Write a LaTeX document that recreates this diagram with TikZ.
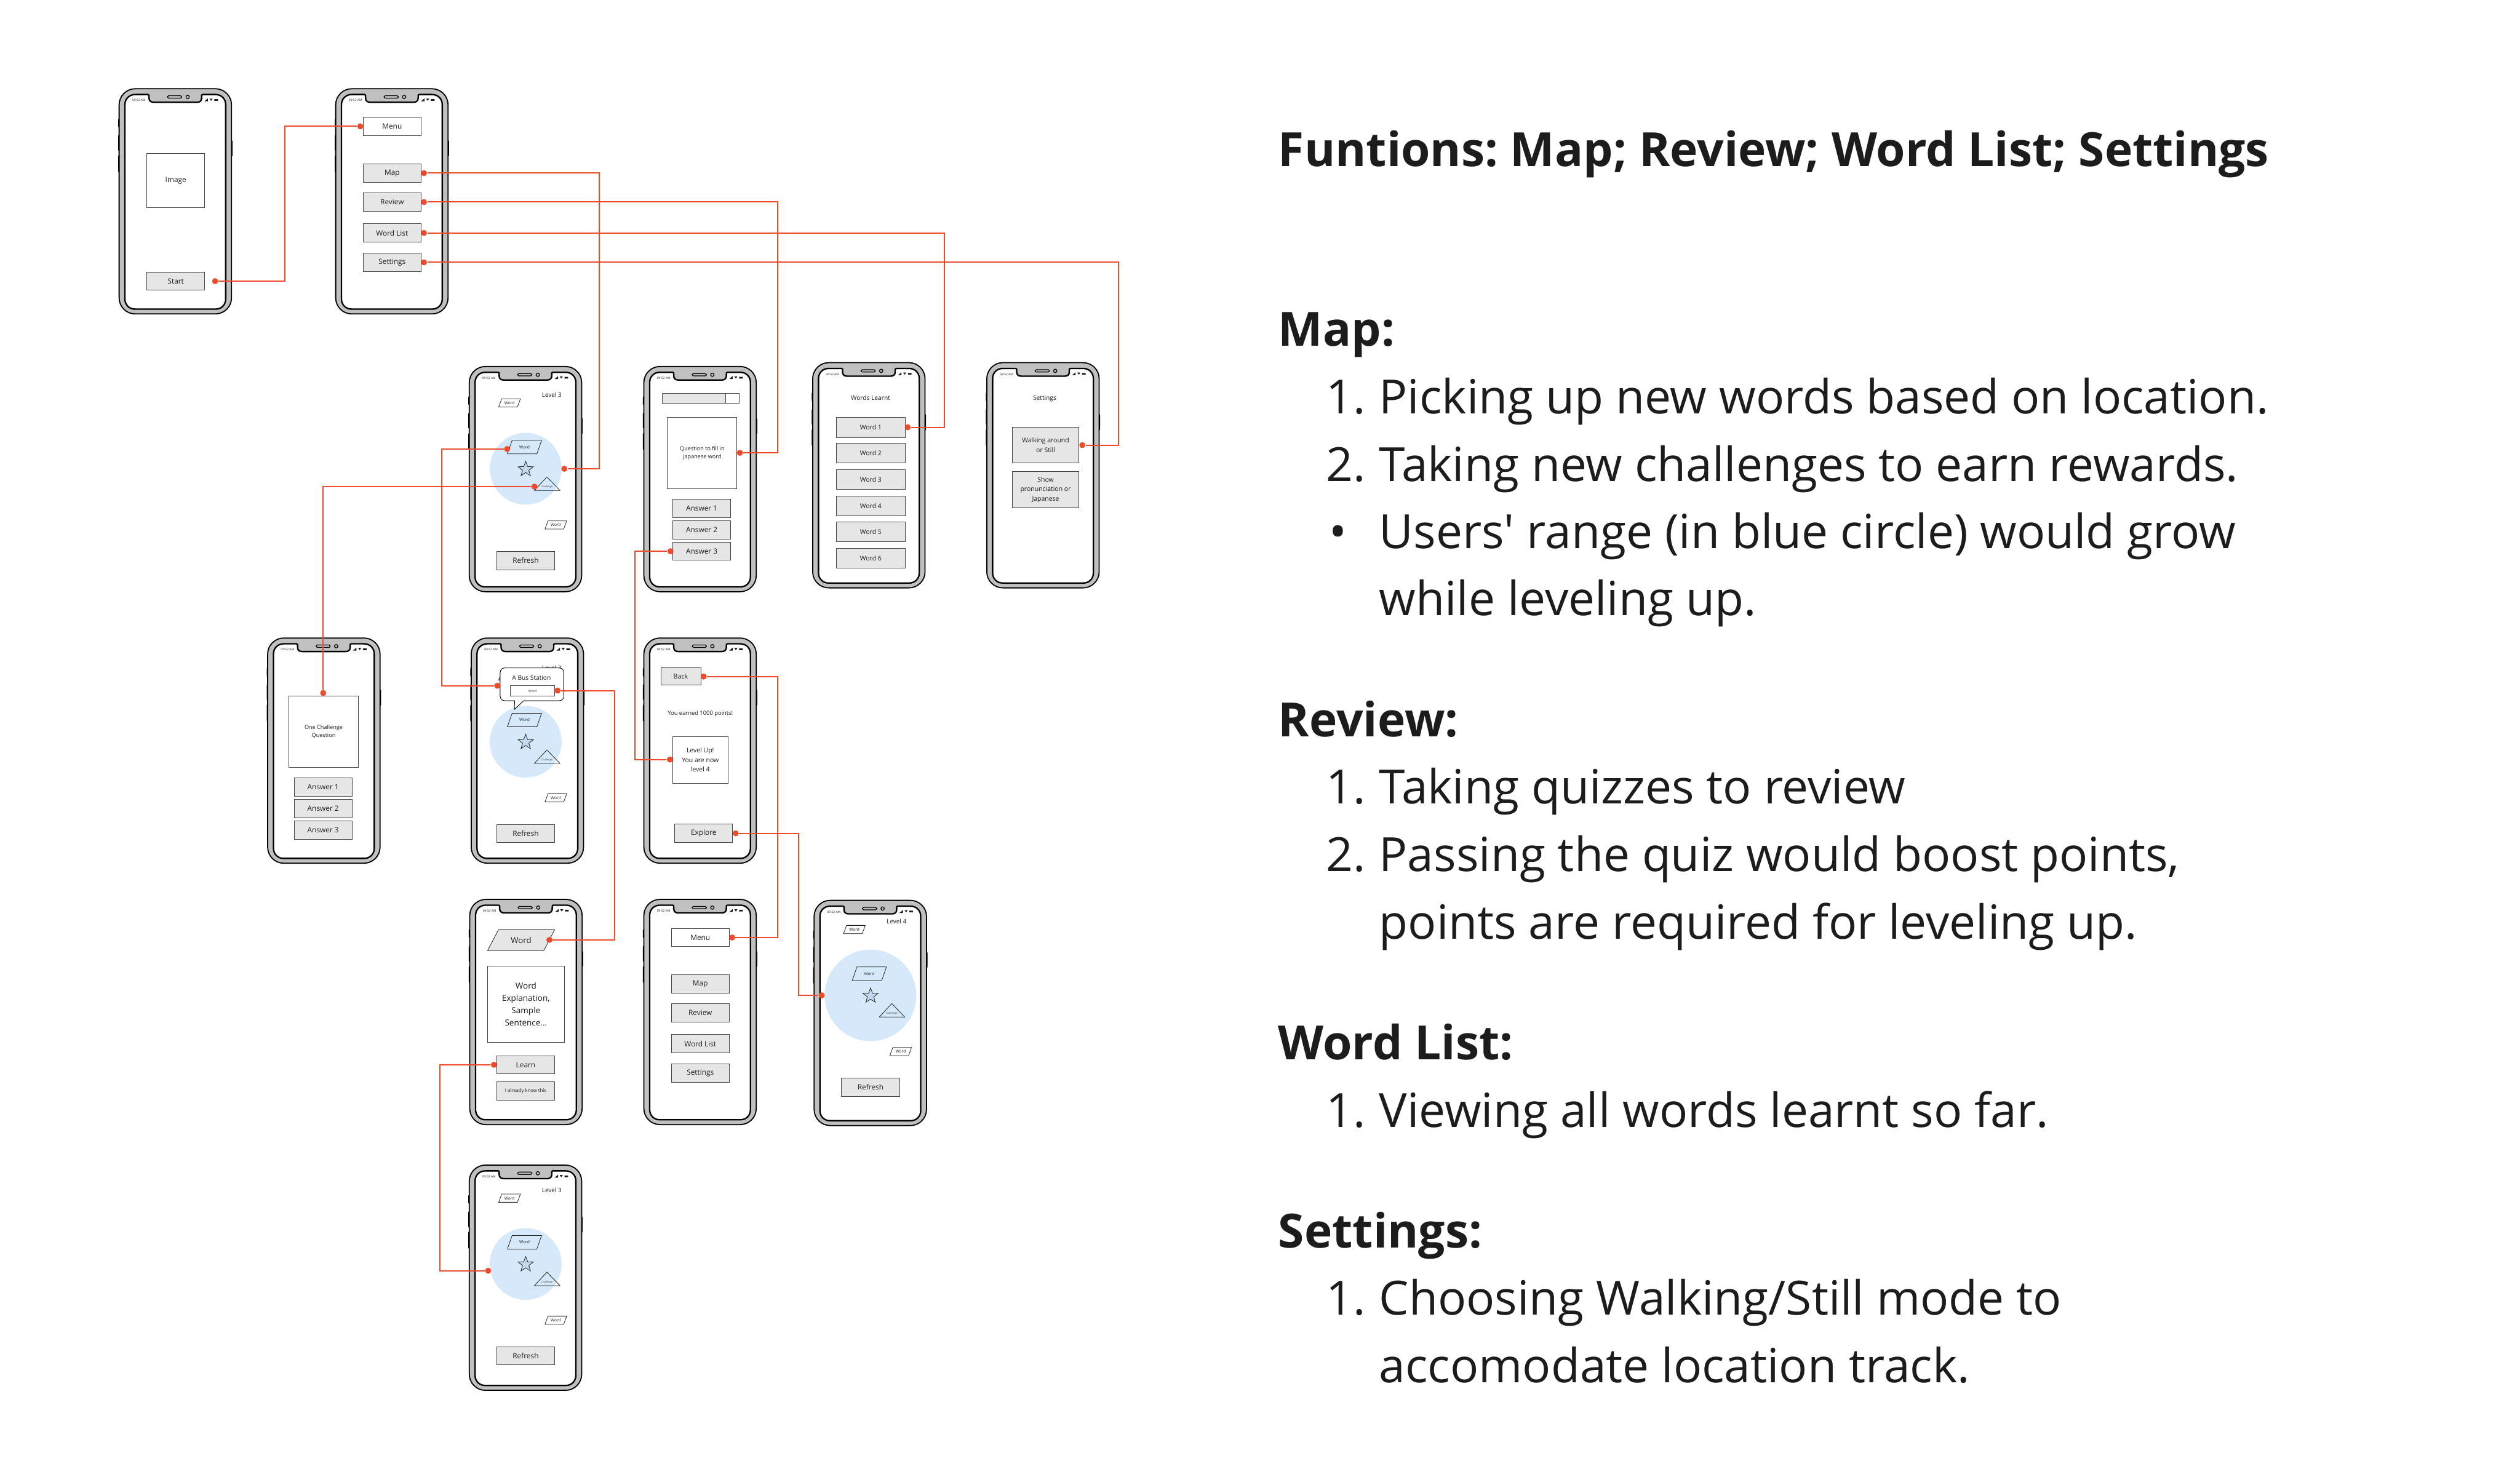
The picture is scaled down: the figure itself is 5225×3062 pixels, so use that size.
\documentclass[tikz,border=0pt]{standalone}
\usepackage{fontspec}
\setmainfont{Open Sans}
\usetikzlibrary{shapes.geometric}

\definecolor{bezelgray}{HTML}{C0C0C0}
\definecolor{btngray}{HTML}{E6E6E6}
\definecolor{edgegray}{HTML}{444444}
\definecolor{inkdark}{HTML}{1C1C1C}
\definecolor{linkred}{HTML}{EE4B2B}
\definecolor{rangeblue}{HTML}{D5E9FB}
\definecolor{starblue}{HTML}{C3DAEE}

\newcommand{\uifont}{\fontsize{4.3}{5.7}\selectfont}
\newcommand{\smallui}{\fontsize{3.7}{5.6}\selectfont}
\newcommand{\tinyui}{\fontsize{2.4}{3}\selectfont}
\newcommand{\bodyfont}{\fontsize{27.8}{40}\selectfont}
\frenchspacing

\begin{document}
\begin{tikzpicture}[
    x=0.01cm, y=-0.01cm,
    btn/.style={rectangle, draw=edgegray, fill=btngray, line width=.33pt, inner sep=0, minimum width=1.2cm, minimum height=.38cm, font=\uifont, text=inkdark, align=center},
    card/.style={btn, fill=white},
    caption/.style={inner sep=0, font=\smallui, text=inkdark, align=center},
    slant/.style={trapezium, trapezium left angle=58, trapezium right angle=122, trapezium stretches=true, draw=inkdark, line width=.28pt, inner sep=0, font=\tinyui, text=inkdark},
    dot/.style={circle, fill=linkred, inner sep=0, minimum size=.125cm},
    link/.style={draw=linkred, line width=.72pt},
    head/.style={anchor=base west, inner sep=0, font=\bodyfont\bfseries, text=inkdark},
    body/.style={anchor=base west, inner sep=0, font=\bodyfont, text=inkdark},
    pics/phone/.style={code={
        \fill[black, rounded corners=.4pt] (-2,62) rectangle (2,80) (-2,96) rectangle (2,129) (-2,138) rectangle (2,173) (231,107) rectangle (235,140);
        \draw[black, line width=.65pt, fill=bezelgray, rounded corners=9.5pt] (0,0) rectangle (233,467);
        \draw[black, line width=.85pt, fill=white] (33,12) -- (60,12) .. controls (62,12) and (62,14) .. (62,17) -- (62,20) .. controls (62,25) and (66,28) .. (71,28) -- (162,28) .. controls (167,28) and (171,25) .. (171,20) -- (171,17) .. controls (171,14) and (171,12) .. (173,12) -- (200,12) .. controls (212,12) and (221,21) .. (221,33) -- (221,436) .. controls (221,448) and (212,457) .. (200,457) -- (33,457) .. controls (21,457) and (12,448) .. (12,436) -- (12,33) .. controls (12,21) and (21,12) .. (33,12) -- cycle;
        \draw[black, line width=.45pt, fill=bezelgray, rounded corners=.7pt] (100,14.5) rectangle (130,19.5);
        \draw[black, line width=.45pt, fill=bezelgray] (142,17) circle [radius=3.5];
        \node[inner sep=0, font=\fontsize{1.8}{2}\selectfont, text=inkdark] (clock) at (41,24) {09:52 AM};
        \fill[inkdark] (177,26) -- (184,26) -- (184,20) -- cycle (187.5,20.5) -- (194,20.5) -- (190.7,25) -- cycle (197.5,21.5) rectangle (205,25);
    }},
    pics/mapitems/.style n args={2}{code={
        \fill[rangeblue] (117,212) circle [radius=#1];
        \node[caption, font=\fontsize{3.6}{4}\selectfont] (level) at (171,59) {Level #2};
        \node[slant, minimum width=.45cm, minimum height=.17cm] (wordtop) at (83.5,75.5) {Word};
        \node[slant, minimum width=.71cm, minimum height=.28cm] (wordmid) at (114.5,167) {Word};
        \node[slant, minimum width=.45cm, minimum height=.17cm] (wordlow) at (179.5,328.5) {Word};
        \node[star, star points=5, star point ratio=2.4, draw=inkdark, fill=starblue, line width=.28pt, inner sep=0, minimum size=.33cm] (me) at (117,213) {};
        \draw[inkdark, line width=.28pt] (161,229) -- (135,257) -- (188,257) -- cycle;
        \node[inner sep=0, font=\fontsize{1.5}{2}\selectfont, text=edgegray] (chal) at (161,250) {Challenge};
        \node[btn] (refresh) at (117,402.5) {Refresh};
    }},
    pics/menuitems/.style={code={
        \node[card] (menu) at (117,78.5) {Menu};
        \node[btn] (map) at (117,175) {Map};
        \node[btn] (review) at (117,235) {Review};
        \node[btn] (words) at (117,299) {Word List};
        \node[btn] (settings) at (117,360) {Settings};
    }}
]

\fill[white] (0,0) rectangle (5225,3062);
\useasboundingbox (0,0) rectangle (5225,3062);

% Phones
\pic (start) at (247,184) {phone};
\pic (main) at (696,184) {phone};
\pic (explore) at (973,760) {phone};
\pic (quiz) at (1335,760) {phone};
\pic (learnt) at (1685,752) {phone};
\pic (setup) at (2046,752) {phone};
\pic (challenge) at (555,1323) {phone};
\pic (bus) at (977,1323) {phone};
\pic (levelup) at (1335,1323) {phone};
\pic (detail) at (974,1865) {phone};
\pic (again) at (1335,1865) {phone};
\pic (four) at (1688,1867) {phone};
\pic (last) at (973,2416) {phone};

% Start and menu
\node[card, minimum height=1.12cm] (image) at (364.5,374) {Image};
\node[btn] (startbtn) at (364.5,583) {Start};
\pic (firstmenu) at (696,184) {menuitems};

% Map screens
\pic (mapthree) at (973,760) {mapitems={74.5}{3}};
\pic (mapbus) at (973,1326) {mapitems={74.5}{3}};
\pic (mapfour) at (1688,1852) {mapitems={95}{4}};
\pic (maplast) at (973,2409) {mapitems={74.5}{3}};

% Bubble on the bus stop
\draw[black, line width=.33pt, fill=white] (1086,1453) -- (1159,1453) .. controls (1165,1453) and (1169,1449) .. (1169,1443) -- (1169,1395) .. controls (1169,1389) and (1165,1385) .. (1159,1385) -- (1047,1385) .. controls (1041,1385) and (1037,1389) .. (1037,1395) -- (1037,1443) .. controls (1037,1449) and (1041,1453) .. (1047,1453) -- (1067,1453) -- (1066.5,1471) -- cycle;
\node[caption] (busname) at (1102,1406) {A Bus Station};
\node[card, minimum width=.92cm, minimum height=.21cm, font=\fontsize{2}{3}\selectfont, text=edgegray] (busword) at (1104,1432.5) {Word};

% Quiz
\node[rectangle, draw=edgegray, fill=btngray, line width=.33pt, minimum width=1.59cm, minimum height=.2cm, inner sep=0] (barfull) at (1452.5,826) {};
\node[rectangle, draw=edgegray, fill=white, line width=.33pt, minimum width=.28cm, minimum height=.2cm, inner sep=0] (barrest) at (1518,826) {};
\node[card, minimum width=1.44cm, minimum height=1.47cm, font=\fontsize{3.3}{4.9}\selectfont] (question) at (1456,939.5) {Question to fill in\\Japanese word};
\node[btn] (quizone) at (1455,1054) {Answer 1};
\node[btn] (quiztwo) at (1455,1099) {Answer 2};
\node[btn] (quizthree) at (1455,1143) {Answer 3};

% Word list
\node[caption] (wordstitle) at (1805,825) {Words Learnt};
\node[btn, minimum width=1.43cm, minimum height=.41cm, font=\fontsize{3.8}{5}\selectfont] (wordone) at (1805.5,886.5) {Word 1};
\node[btn, minimum width=1.43cm, minimum height=.41cm, font=\fontsize{3.8}{5}\selectfont] (wordtwo) at (1805.5,939.5) {Word 2};
\node[btn, minimum width=1.43cm, minimum height=.41cm, font=\fontsize{3.8}{5}\selectfont] (wordthree) at (1805.5,994.5) {Word 3};
\node[btn, minimum width=1.43cm, minimum height=.41cm, font=\fontsize{3.8}{5}\selectfont] (wordfour) at (1805.5,1049) {Word 4};
\node[btn, minimum width=1.43cm, minimum height=.41cm, font=\fontsize{3.8}{5}\selectfont] (wordfive) at (1805.5,1102.5) {Word 5};
\node[btn, minimum width=1.43cm, minimum height=.41cm, font=\fontsize{3.8}{5}\selectfont] (wordsix) at (1805.5,1157.5) {Word 6};

% Settings
\node[caption] (setuptitle) at (2166,826) {Settings};
\node[btn, minimum width=1.38cm, minimum height=.74cm, font=\fontsize{3.8}{5.7}\selectfont] (walking) at (2168,923) {Walking around\\or Still};
\node[btn, minimum width=1.38cm, minimum height=.75cm, font=\fontsize{3.8}{5.7}\selectfont] (pronounce) at (2168,1015.5) {Show\\pronunciation or\\Japanese};

% Challenge
\node[card, minimum width=1.44cm, minimum height=1.48cm, font=\fontsize{3.3}{4.9}\selectfont] (chalbox) at (671,1517) {One Challenge\\Question};
\node[btn] (chalone) at (670,1632.5) {Answer 1};
\node[btn] (chaltwo) at (670,1677) {Answer 2};
\node[btn] (chalthree) at (670,1721) {Answer 3};

% Level up
\node[btn, minimum width=.83cm, minimum height=.35cm, font=\fontsize{3.9}{5}\selectfont] (back) at (1411.5,1402.5) {Back};
\node[caption, font=\fontsize{3.4}{5}\selectfont] (earned) at (1452,1480) {You earned 1000 points!};
\node[card, minimum width=1.14cm, minimum height=.97cm, font=\fontsize{3.8}{5.6}\selectfont] (levelbox) at (1452,1575.5) {Level Up!\\You are now\\level 4};
\node[btn] (explorebtn) at (1459,1728) {Explore};

% Word detail
\node[slant, fill=btngray, trapezium left angle=52, trapezium right angle=128, minimum width=1.39cm, minimum height=.43cm, font=\fontsize{4.8}{6}\selectfont] (wordshape) at (1080.5,1949.5) {Word};
\node[card, minimum width=1.59cm, minimum height=1.58cm, font=\fontsize{4.9}{7.3}\selectfont] (meaning) at (1090.5,2082) {Word\\Explanation,\\Sample\\Sentence...};
\node[btn] (learnbtn) at (1090,2208) {Learn};
\node[btn, font=\fontsize{2.8}{4}\selectfont] (knowbtn) at (1090,2262) {I already know this};

\pic (secondmenu) at (1335,1865.5) {menuitems};

% Dots
\node[dot] (startdot) at (446,583) {};
\node[dot] (menudot) at (747,262) {};
\node[dot] (mapdot) at (879,359) {};
\node[dot] (reviewdot) at (879,419) {};
\node[dot] (listdot) at (879,483) {};
\node[dot] (setdot) at (879,544) {};
\node[dot] (rangedot) at (1170,972) {};
\node[dot] (questiondot) at (1534,939) {};
\node[dot] (worddot) at (1882,886) {};
\node[dot] (walkdot) at (2244,923) {};
\node[dot] (placedot) at (1051.5,931) {};
\node[dot] (bubbledot) at (1031,1422) {};
\node[dot] (taskdot) at (1108,1009) {};
\node[dot] (chaldot) at (670,1437) {};
\node[dot] (answerdot) at (1390,1143) {};
\node[dot] (updot) at (1389,1575) {};
\node[dot] (busdot) at (1156,1432) {};
\node[dot] (shapedot) at (1139,1949) {};
\node[dot] (backdot) at (1459,1403) {};
\node[dot] (againdot) at (1518,1944) {};
\node[dot] (exploredot) at (1525.5,1728) {};
\node[dot] (fourdot) at (1704,2064) {};
\node[dot] (learndot) at (1024,2208) {};
\node[dot] (lastdot) at (1012,2635) {};

% Links
\draw[link] (startdot) -- ++(144,0) |- (menudot);
\draw[link] (mapdot) -- ++(364,0) |- (rangedot);
\draw[link] (reviewdot) -- ++(733,0) |- (questiondot);
\draw[link] (listdot) -- ++(1079,0) |- (worddot);
\draw[link] (setdot) -- ++(1440,0) |- (walkdot);
\draw[link] (placedot) -- ++(-135,0) |- (bubbledot);
\draw[link] (taskdot) -| (chaldot);
\draw[link] (answerdot) -- ++(-73,0) |- (updot);
\draw[link] (busdot) -- ++(118,0) |- (shapedot);
\draw[link] (backdot) -- ++(154,0) |- (againdot);
\draw[link] (exploredot) -- ++(130,0) |- (fourdot);
\draw[link] (learndot) -- ++(-112,0) |- (lastdot);

% Text on the right
\node[head] (title) at (2650,345) {Funtions: Map; Review; Word List; Settings};
\node[head] (maphead) at (2650,718) {Map:};
\node[body] (mapnumone) at (2749,858) {1.};
\node[body] (mapone) at (2859,858) {Picking up new words based on location.};
\node[body] (mapnumtwo) at (2749,998) {2.};
\node[body] (maptwo) at (2859,998) {Taking new challenges to earn rewards.};
\node[body] (mapbullet) at (2755,1137) {•};
\node[body] (mapthreeline) at (2859,1137) {Users\textquotesingle{} range (in blue circle) would grow};
\node[body] (mapfourline) at (2859,1276) {while leveling up.};
\node[head] (reviewhead) at (2650,1527) {Review:};
\node[body] (revnumone) at (2749,1667) {1.};
\node[body] (revone) at (2859,1667) {Taking quizzes to review};
\node[body] (revnumtwo) at (2749,1807) {2.};
\node[body] (revtwo) at (2859,1807) {Passing the quiz would boost points,};
\node[body] (revthree) at (2859,1947) {points are required for leveling up.};
\node[head] (listhead) at (2650,2197) {Word List:};
\node[body] (listnumone) at (2749,2337) {1.};
\node[body] (listone) at (2859,2337) {Viewing all words learnt so far.};
\node[head] (sethead) at (2650,2587) {Settings:};
\node[body] (setnumone) at (2749,2727) {1.};
\node[body] (setone) at (2859,2727) {Choosing Walking/Still mode to};
\node[body] (settwo) at (2859,2867) {accomodate location track.};

\end{tikzpicture}
\end{document}
